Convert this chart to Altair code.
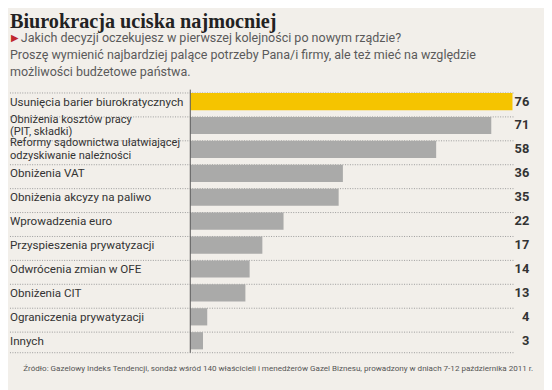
import altair as alt
import pandas as pd

categories = [
    "Usunięcia barier biurokratycznych",
    "Obniżenia kosztów pracy\n(PIT, składki)",
    "Reformy sądownictwa ułatwiającej\nodzyskiwanie należności",
    "Obniżenia VAT",
    "Obniżenia akcyzy na paliwo",
    "Wprowadzenia euro",
    "Przyspieszenia prywatyzacji",
    "Odwrócenia zmian w OFE",
    "Obniżenia CIT",
    "Ograniczenia prywatyzacji",
    "Innych",
]
values = [76, 71, 58, 36, 35, 22, 17, 14, 13, 4, 3]

title = "Biurokracja uciska najmocniej"
subtitle = [
    "Jakich decyzji oczekujesz w pierwszej kolejności po nowym rządzie?",
    "Proszę wymienić najbardziej palące potrzeby Pana/i firmy, ale też mieć na względzie",
    "możliwości budżetowe państwa.",
]
source = ("Źródło: Gazelowy Indeks Tendencji, sondaż wśród 140 właścicieli i menedżerów "
          "Gazel Biznesu, prowadzony w dniach 7-12 października 2011 r.")

df = pd.DataFrame({"kat": categories, "val": values})
df["idx"] = range(len(df))

W, H = 327, 267
FONT = "Roboto"
BG = "#f2efea"

yscale = alt.Scale(paddingInner=0.28, paddingOuter=0.14)
yenc = alt.Y("kat:N", sort=None, axis=None, scale=yscale)

base = alt.Chart(df)

bars = base.mark_bar().encode(
    x=alt.X("val:Q", axis=None, scale=alt.Scale(domain=[0, 76], nice=False)),
    y=yenc,
    color=alt.condition("datum.idx == 0", alt.value("#f5c400"), alt.value("#aaaaa9")),
)

seps = base.mark_rule(color="#9a9a9a", strokeDash=[1, 1.5], strokeWidth=1).encode(
    y=alt.Y("kat:N", sort=None, axis=None, bandPosition=0, scale=yscale),
    x=alt.value(-183), x2=alt.value(329),
)
bottom_sep = alt.Chart(pd.DataFrame({"a": [0]})).mark_rule(
    color="#9a9a9a", strokeDash=[1, 1.5], strokeWidth=1
).encode(y=alt.value(H), x=alt.value(-183), x2=alt.value(329))

axis_line = alt.Chart(pd.DataFrame({"a": [0]})).mark_rule(
    color="#555555", strokeWidth=1
).encode(x=alt.value(0), y=alt.value(0), y2=alt.value(H))

labels_single = base.transform_filter("indexof(datum.kat, '\\n') < 0").mark_text(
    align="left", baseline="middle", font=FONT, fontSize=11.8,
    color="#333333").encode(y=yenc, x=alt.value(-183), text="kat:N")

labels_multi = base.transform_filter("indexof(datum.kat, '\\n') >= 0").mark_text(
    align="left", baseline="middle", font=FONT, fontSize=11.2, dy=-6,
    color="#333333", lineBreak="\n", lineHeight=12.5).encode(
    y=yenc, x=alt.value(-183), text="kat:N")

nums = base.mark_text(align="right", baseline="middle", font=FONT, fontSize=13,
                      fontWeight="bold", color="#333333").encode(
    y=yenc, x=alt.value(344), text="val:Q"
)

one = pd.DataFrame({"a": [0]})
title_mark = alt.Chart(one).mark_text(
    align="left", baseline="alphabetic", font="Liberation Serif", fontSize=20.5,
    fontWeight="bold", color="#222222", text=title
).encode(x=alt.value(-183), y=alt.value(-63))

tri = alt.Chart(one).mark_text(
    align="left", baseline="alphabetic", font="DejaVu Sans", fontSize=10,
    color="#c0282d", text="▶"
).encode(x=alt.value(-182), y=alt.value(-49))

sub_df = pd.DataFrame({"t": subtitle, "yy": [-48, -31, -14], "xx": [-172, -183, -183]})
subs = alt.Chart(sub_df).mark_text(
    align="left", baseline="alphabetic", font=FONT, fontSize=12.7, color="#5a5a5a"
).encode(x=alt.X("xx:Q", scale=None), y=alt.Y("yy:Q", scale=None), text="t:N")

src = alt.Chart(one).mark_text(
    align="right", baseline="alphabetic", font=FONT, fontSize=8.2, color="#555555",
    text=source
).encode(x=alt.value(348), y=alt.value(286))

chart = alt.layer(seps, bottom_sep, bars, axis_line, labels_single, labels_multi, nums,
                  title_mark, tri, subs, src).properties(
    width=W, height=H,
    autosize=alt.AutoSizeParams(type="none"),
    padding={"left": 185, "top": 80, "right": 32, "bottom": 35},
    background=BG,
).configure_view(stroke=None)

chart.save("out.html", embed_options={"renderer": "svg", "actions": False})
